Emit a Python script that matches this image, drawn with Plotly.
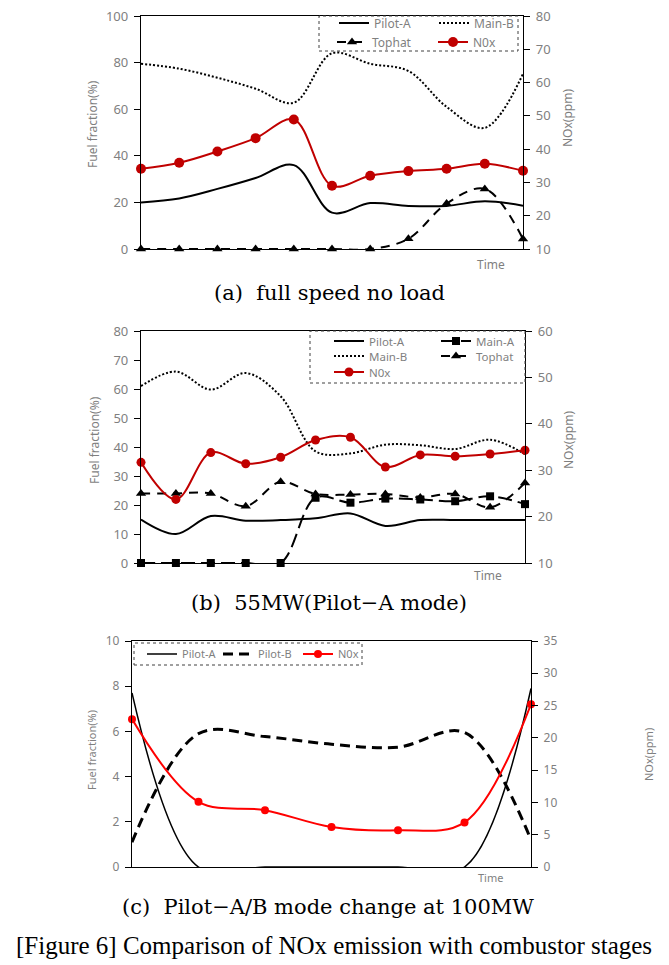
import plotly.graph_objects as go

W, H = 669, 965

# ---------------- data ----------------
# (a) full speed no load
t_a = list(range(11))
pilotA_a = [20, 21.7, 25.8, 30.5, 36, 15.6, 19.7, 18.5, 18.5, 20.5, 18.6]
mainB_a = [79.5, 77.4, 73.5, 68.8, 62.8, 84, 79.5, 76.4, 61, 52, 75.2]
tophat_a = [0, 0, 0, 0, 0, 0, 0, 4.4, 19.5, 25.8, 4.3]
nox_a = [34.1, 35.9, 39.3, 43.3, 48.9, 29.0, 32.0, 33.4, 34.1, 35.6, 33.5]

# (b) 55MW (Pilot-A mode)
t_b = list(range(12))
pilotA_b = [15, 10, 16.2, 14.6, 14.8, 15.4, 17.1, 12.8, 14.8, 14.8, 14.8, 14.8]
mainA_b = [0, 0, 0, 0, 0, 22.5, 20.8, 22.2, 21.9, 21.3, 23, 20.3]
mainB_b = [61, 66, 59.8, 65.5, 57.5, 38.5, 37.8, 40.8, 40.6, 39.3, 42.5, 37.5]
tophat_b = [24, 24, 24, 19.6, 28, 23.8, 23.6, 23.8, 22.6, 23.8, 19.2, 27.6]
nox_b = [31.7, 23.7, 33.8, 31.4, 32.8, 36.5, 37.1, 30.7, 33.3, 33.0, 33.5, 34.3]

# (c) Pilot-A/B mode change at 100MW
t_c = list(range(7))
pilotA_c = [7.7, 0, 0, 0, 0, 0, 7.9]
pilotB_c = [1.1, 5.9, 5.77, 5.43, 5.3, 5.95, 1.2]
nox_c = [22.9, 10.1, 8.8, 6.2, 5.7, 6.9, 25.2]

GRAY = "#7f7f7f"
DARKRED = "#C00000"
RED = "#FF0000"
FONT = "Noto Sans"
SERIF = "DejaVu Serif"
SERIF2 = "Liberation Serif"


def px_x(x):
    return x / W


def px_y(y):
    return 1 - y / H


fig = go.Figure()


def add(x, y, name, xa, ya, legend, color="black", width=2, dash="solid",
        symbol=None, msize=9, mode="lines"):
    kw = {}
    if symbol:
        mode = "lines+markers"
        kw["marker"] = dict(symbol=symbol, size=msize, color=color)
    fig.add_trace(go.Scatter(
        x=x, y=y, name=name, xaxis=xa, yaxis=ya, mode=mode, showlegend=True,
        line=dict(color=color, width=width, dash=dash, shape="spline", smoothing=1),
        legend=legend, cliponaxis=False, **kw))


# panel a
add(t_a, pilotA_a, "Pilot-A", "x", "y", "legend")
add(t_a, mainB_a, "Main-B", "x", "y", "legend2", dash="2px,2px", width=2)
add(t_a, tophat_a, "Tophat", "x", "y", "legend3", dash="9px,7px", symbol="triangle-up", msize=9)
add(t_a, nox_a, "N0x", "x", "y2", "legend4", color=DARKRED, symbol="circle", msize=10)

# panel b
add(t_b, pilotA_b, "Pilot-A", "x2", "y3", "legend5")
add(t_b, mainA_b, "Main-A", "x2", "y3", "legend6", dash="14px,6px", symbol="square", msize=8)
add(t_b, mainB_b, "Main-B", "x2", "y3", "legend7", dash="2px,2px", width=2)
add(t_b, tophat_b, "Tophat", "x2", "y3", "legend8", dash="9px,7px", symbol="triangle-up", msize=9)
add(t_b, nox_b, "N0x", "x2", "y4", "legend9", color=DARKRED, symbol="circle", msize=9)

# panel c
add(t_c, pilotA_c, "Pilot-A", "x3", "y5", "legend10", width=1.5)
add(t_c, pilotB_c, "Pilot-B", "x3", "y5", "legend11", dash="10px,6px", width=3)
add(t_c, nox_c, "N0x", "x3", "y6", "legend12", color=RED, symbol="circle", msize=8)

# ------------- axes -------------
panels = [
    ("xaxis", "yaxis", "yaxis2", (141, 523), (16, 249), 11, (0, 100), 20, (10, 80), 10, 13),
    ("xaxis2", "yaxis3", "yaxis4", (141, 525), (331, 563), 12, (0, 80), 10, (10, 60), 10, 13),
    ("xaxis3", "yaxis5", "yaxis6", (132, 531), (641, 867), 7, (0, 10), 2, (0, 35), 5, 12),
]
lay = {}
for i, (xa, yl, yr, xr, yrng, n, lr, ld, rr, rd, fs) in enumerate(panels):
    xref = "x" if i == 0 else f"x{i+1}"
    ylref = "y" if i == 0 else f"y{2*i+1}"
    dom_x = [px_x(xr[0]), px_x(xr[1])]
    dom_y = [px_y(yrng[1]), px_y(yrng[0])]
    lay[xa] = dict(domain=dom_x, anchor=ylref, range=[0, n - 1], showline=True,
                   linecolor="black", linewidth=1.3, mirror=True, showgrid=False,
                   zeroline=False, showticklabels=False, ticks="")
    lay[yl] = dict(domain=dom_y, anchor=xref, range=list(lr), dtick=ld, showline=True,
                   linecolor="black", linewidth=1.3, showgrid=False, zeroline=False,
                   ticks="outside", ticklen=6, tickcolor="black", ticklabelstandoff=3,
                   tickfont=dict(family=FONT, size=fs, color=GRAY))
    lay[yr] = dict(domain=dom_y, anchor=xref, overlaying=ylref, side="right",
                   range=list(rr), dtick=rd, showline=True, linecolor="black",
                   linewidth=1.3, showgrid=False, zeroline=False, ticks="outside",
                   ticklen=6, tickcolor="black", ticklabelstandoff=3,
                   tickfont=dict(family=FONT, size=fs, color=GRAY))

# ------------- legends -------------
leg_specs = [
    # legend id, text start px, center y px, font size
    ("legend", 374, 23, 12), ("legend2", 474, 23, 12),
    ("legend3", 372, 42, 12), ("legend4", 473, 42, 12),
    ("legend5", 369, 341, 11.5), ("legend6", 476, 341, 11.5),
    ("legend7", 369, 356, 11.5), ("legend8", 476, 356, 11.5),
    ("legend9", 369, 372, 11.5),
    ("legend10", 182, 654, 11), ("legend11", 258, 654, 11), ("legend12", 338, 654, 11),
]
for lid, tx, cy, fs in leg_specs:
    lay[lid] = dict(x=px_x(tx - 40), y=px_y(cy), xanchor="left", yanchor="middle",
                    orientation="v", bgcolor="rgba(0,0,0,0)", borderwidth=0,
                    font=dict(family=FONT, size=fs, color=GRAY), itemclick=False)

shapes = []
for (x0, y0, x1, y1) in [(319, 16, 518, 51), (310, 331, 525, 383), (134, 643, 362, 665)]:
    shapes.append(dict(type="rect", xref="paper", yref="paper",
                       x0=px_x(x0), x1=px_x(x1), y0=px_y(y1), y1=px_y(y0),
                       line=dict(color="#404040", width=1, dash="dot"),
                       fillcolor="rgba(0,0,0,0)", layer="above"))

annotations = []


def ann(text, x, y, size, font=FONT, color=GRAY, angle=0, xanchor="center"):
    annotations.append(dict(text=text, x=px_x(x), y=px_y(y), xref="paper", yref="paper",
                            showarrow=False, xanchor=xanchor, yanchor="middle",
                            textangle=angle, font=dict(family=font, size=size, color=color)))


# axis titles
ann("Fuel fraction(%)", 93, 124, 12, angle=-90)
ann("NOx(ppm)", 567, 118, 12, angle=-90)
ann("Fuel fraction(%)", 94, 440, 12, angle=-90)
ann("NOx(ppm)", 568, 440, 12, angle=-90)
ann("Fuel fraction(%)", 91, 750, 11, angle=-90)
ann("NOx(ppm)", 648, 755, 11, angle=-90)
# time labels
ann("Time", 491, 264, 12)
ann("Time", 488, 575, 12)
ann("Time", 490, 877, 11)
# captions
ann("(a)  full speed no load", 329, 293, 21, font=SERIF, color="black")
ann("(b)  55MW(Pilot−A mode)", 329, 603, 21, font=SERIF, color="black")
ann("(c)  Pilot−A/B mode change at 100MW", 328, 907, 21, font=SERIF, color="black")
ann("[Figure 6] Comparison of NOx emission with combustor stages", 334, 945, 25,
    font=SERIF2, color="black")

fig.update_layout(width=W, height=H,
                  margin=dict(l=0, r=0, t=0, b=0, autoexpand=False),
                  paper_bgcolor="white", plot_bgcolor="white", hovermode=False,
                  shapes=shapes, annotations=annotations, **lay)

fig.write_html("out.html", config={"displayModeBar": False},
               post_script="document.body.style.margin='0px';document.body.style.padding='0px';")
